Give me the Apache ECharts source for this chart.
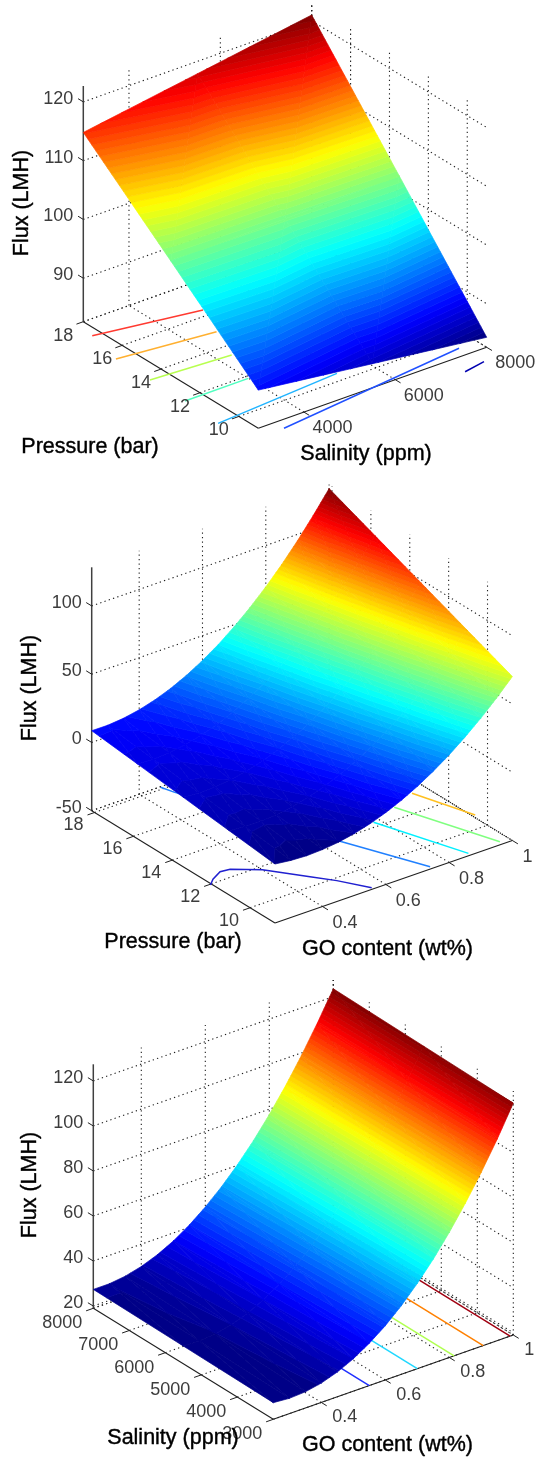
<!DOCTYPE html>
<html>
<head>
<meta charset="utf-8">
<style>
html,body{margin:0;padding:0;background:#fff}
#chart{width:541px;height:1458px;filter:blur(0.4px)}
</style>
<script src="https://cdn.jsdelivr.net/npm/echarts@6/dist/echarts.min.js"></script>
</head>
<body>
<div id="chart"></div>
<script>
// ---------- values ----------
// Panel 1: Flux against Pressure and Salinity
const pressure1 = [9, 13.5, 18];
const salinity1 = [3000, 5500, 8000];
const flux1 = [
  [89.1, 86.7, 84.3],
  [102.0, 102.3, 102.7],
  [114.8, 117.9, 121.0]
];
const pressureTicks1 = [10, 12, 14, 16, 18];
const salinityTicks1 = [4000, 6000, 8000];
const fluxTicks1 = [90, 100, 110, 120];
const contours1 = [
  [[17.54, 3000], [16.81, 5115]],
  [[15.85, 2800], [15.4, 4810]],
  [[14.08, 2790], [13.87, 4490]],
  [[12.3, 2800], [12.31, 4190]],
  [[10.48, 2750], [10.9, 5530]],
  [[8.97, 3550], [9.93, 7790]],
  [[8.56, 7340], [8.74, 7830]]
];

// Panel 2: Flux against Pressure and GO content
const pressure2 = [8.72, 11.08, 13.435, 15.79, 18.15];
const go2 = [0.25, 0.30, 0.35, 0.40, 0.45, 0.50, 0.55, 0.60, 0.65, 0.70, 0.75, 0.80, 0.85, 0.90, 0.95, 1];
const flux2 = [
  [-6.8, -8.2, -8.8, -8.3, -7.0, -4.7, -1.5, 2.7, 7.8, 13.9, 20.9, 28.8, 37.8, 47.6, 58.4, 70.1],
  [-2.95, -4.0, -4.2, -3.3, -1.5, 1.35, 5.15, 10.0, 15.7, 22.55, 30.3, 39.0, 48.8, 59.5, 71.3, 83.95],
  [0.9, 0.15, 0.4, 1.75, 4.05, 7.4, 11.8, 17.25, 23.65, 31.2, 39.7, 49.2, 59.85, 71.45, 84.15, 97.8],
  [4.75, 4.3, 5.0, 6.8, 9.6, 13.45, 18.45, 24.5, 31.6, 39.85, 49.1, 59.4, 70.85, 83.4, 97.0, 111.65],
  [8.6, 8.5, 9.6, 11.8, 15.1, 19.5, 25.1, 31.8, 39.5, 48.5, 58.5, 69.6, 81.9, 95.3, 109.9, 125.5]
];
const pressureTicks2 = [10, 12, 14, 16, 18];
const goTicks2 = [0.4, 0.6, 0.8, 1];
const fluxTicks2 = [-50, 0, 50, 100];
const contours2 = [
  [[11.96, 0.245], [12.22, 0.269], [12.49, 0.308], [12.43, 0.336], [11.81, 0.40], [10.55, 0.473], [9.84, 0.514], [8.81, 0.561]],
  [[8.85, 0.748], [11.83, 0.652], [17.61, 0.477], [18.12, 0.466]],
  [[8.85, 0.869], [12.28, 0.78]],
  [[8.89, 0.971], [12.7, 0.871]],
  [[10.78, 1.009], [13.12, 0.953]]
];

// Panel 3: Flux against Salinity and GO content
const salinity3 = [3000, 5500, 8000];
const go3 = [0.25, 0.30, 0.35, 0.40, 0.45, 0.50, 0.55, 0.60, 0.65, 0.70, 0.75, 0.80, 0.85, 0.90, 0.95, 1];
const flux3 = [
  [26.4, 25.8, 26.2, 27.6, 30.0, 33.4, 37.8, 43.1, 49.5, 56.9, 65.2, 74.6, 85.0, 96.3, 108.6, 122.0],
  [26.9, 26.6, 27.25, 28.85, 31.4, 34.9, 39.4, 44.8, 51.2, 58.55, 66.8, 76.1, 86.35, 97.5, 109.65, 122.75],
  [27.4, 27.4, 28.3, 30.1, 32.8, 36.4, 41.0, 46.5, 52.9, 60.2, 68.4, 77.6, 87.7, 98.7, 110.7, 123.5]
];
const salinityTicks3 = [4000, 5000, 6000, 7000, 8000, 3000];
const goTicks3 = [0.4, 0.6, 0.8, 1];
const fluxTicks3 = [20, 40, 60, 80, 100, 120];
const contours3 = [
  [[3000, 0.99], [8000, 0.99]],
  [[3000, 0.906], [8000, 0.906]],
  [[3000, 0.815], [8000, 0.815]],
  [[3000, 0.70], [8000, 0.70]],
  [[3000, 0.55], [8000, 0.55]]
];

// ---------- layout and style ----------
const contourColors1 = ['#ff3a30', '#ffb030', '#b8ff50', '#50ffc0', '#20b4ff', '#2050ff', '#0000b0'];
const contourColors2 = ['#2020d0', '#2080ff', '#00f0ff', '#80ff80', '#ffc020'];
const contourColors3 = ['#a00010', '#ff8000', '#b0ff50', '#20d8ff', '#2030ff'];

const panels = [
  { a: [9, 18], b: [3000, 8000], z: [82.6, 122.7], o: [258.3, 428.3], A: [-175, -106.6], B: [228.4, -81], H: 235.7,
    aVals: pressure1, bVals: salinity1, flux: flux1, aTicks: pressureTicks1, bTicks: salinityTicks1, zTicks: fluxTicks1,
    contours: contours1, colors: contourColors1, contourZ: 81.15,
    aLab: [-20, 14], bLab: [8.5, 16], zLabX: -10,
    names: [['Flux (LMH)', 22.5, 203, true], ['Pressure (bar)', 90, 447, false], ['Salinity (ppm)', 366, 454, false]] },
  { a: [8.72, 18.15], b: [0.25, 1], z: [-50, 128.3], o: [275, 923], A: [-183.3, -112.3], B: [237.4, -82.5], H: 243.4,
    aVals: pressure2, bVals: go2, flux: flux2, aTicks: pressureTicks2, bTicks: goTicks2, zTicks: fluxTicks2,
    contours: contours2, colors: contourColors2, contourZ: -50,
    aLab: [-21, 13], bLab: [10, 16.5], zLabX: -10,
    names: [['Flux (LMH)', 30.4, 688, true], ['Pressure (bar)', 173, 941.7, false], ['GO content (wt%)', 387.5, 949, false]] },
  { a: [3000, 8000], b: [0.25, 1], z: [19, 127.4], o: [273.3, 1419.3], A: [-180, -111], B: [240, -84.3], H: 244,
    aVals: salinity3, bVals: go3, flux: flux3, aTicks: salinityTicks3, bTicks: goTicks3, zTicks: fluxTicks3,
    contours: contours3, colors: contourColors3, contourZ: 19,
    aLab: [-31, 15], bLab: [11, 15], zLabX: -10,
    names: [['Flux (LMH)', 30.4, 1185, true], ['Salinity (ppm)', 173, 1437.7, false], ['GO content (wt%)', 387.5, 1445, false]] }
];

const JET_LEVELS = 64;
const clamp01 = v => Math.max(0, Math.min(1, v));
function jet(t) {
  const r = clamp01(1.5 - Math.abs(4 * t - 3));
  const g = clamp01(1.5 - Math.abs(4 * t - 2));
  const b = clamp01(1.5 - Math.abs(4 * t - 1));
  return 'rgb(' + Math.round(r * 255) + ',' + Math.round(g * 255) + ',' + Math.round(b * 255) + ')';
}

function projector(P) {
  return function (a, b, z) {
    const fa = (a - P.a[0]) / (P.a[1] - P.a[0]);
    const fb = (b - P.b[0]) / (P.b[1] - P.b[0]);
    const fz = (z - P.z[0]) / (P.z[1] - P.z[0]);
    return [P.o[0] + fa * P.A[0] + fb * P.B[0], P.o[1] + fa * P.A[1] + fb * P.B[1] - fz * P.H];
  };
}

// keep the part of a polygon whose z lies on one side of a level
function clipZ(poly, level, keepAbove) {
  const out = [];
  for (let i = 0; i < poly.length; i++) {
    const p = poly[i], q = poly[(i + 1) % poly.length];
    const pIn = keepAbove ? p[2] >= level : p[2] <= level;
    const qIn = keepAbove ? q[2] >= level : q[2] <= level;
    if (pIn) out.push(p);
    if (pIn !== qIn) {
      const t = (level - p[2]) / (q[2] - p[2]);
      out.push([p[0] + t * (q[0] - p[0]), p[1] + t * (q[1] - p[1]), level]);
    }
  }
  return out;
}

function customSeries(items, build, z) {
  return {
    type: 'custom', coordinateSystem: 'cartesian2d', silent: true, animation: false, z: z, clip: false,
    encode: { x: 0, y: 1 },
    data: items.map((d, i) => [i, 0]),
    renderItem: (params, api) => build(items[params.dataIndex], api)
  };
}

const series = [];
panels.forEach(P => {
  const proj = projector(P);
  const [a0, a1] = P.a, [b0, b1] = P.b, [z0, z1] = P.z;
  const da = a1 - a0, db = b1 - b0;
  const pline = (pts, stroke, width, dash, api) => ({
    type: 'polyline',
    shape: { points: pts.map(p => api.coord(p)) },
    style: { stroke: stroke, lineWidth: width, lineDash: dash || null, fill: null }
  });

  // dotted grid on the floor and the two back walls
  const dots = [];
  P.aTicks.forEach(t => {
    dots.push([proj(t, b0, z0), proj(t, b1, z0)]);
    dots.push([proj(t, b1, z0), proj(t, b1, z1)]);
  });
  P.bTicks.forEach(t => {
    dots.push([proj(a0, t, z0), proj(a1, t, z0)]);
    dots.push([proj(a1, t, z0), proj(a1, t, z1)]);
  });
  P.zTicks.forEach(t => {
    dots.push([proj(a1, b0, t), proj(a1, b1, t)]);
    dots.push([proj(a1, b1, t), proj(a0, b1, t)]);
  });
  dots.push([proj(a1, b0, z0), proj(a1, b1, z0)]);
  dots.push([proj(a1, b1, z0), proj(a0, b1, z0)]);
  dots.push([proj(a1, b1, z0), proj(a1, b1, z1)]);
  series.push(customSeries(dots, (d, api) => pline(d, '#202020', 1.1, [1.3, 3.2], api), 1));

  // axis lines and tick marks
  const axes = [
    [proj(a1, b0, z0), proj(a0, b0, z0), '#202020', 1.1],
    [proj(a0, b0, z0), proj(a0, b1, z0), '#202020', 1.1],
    [proj(a1, b0, z0), proj(a1, b0, z1), '#404040', 1.5]
  ];
  P.aTicks.forEach(t => axes.push([proj(t, b0, z0), proj(t, b0 - 0.03 * db, z0), '#202020', 1]));
  P.bTicks.forEach(t => axes.push([proj(a0, t, z0), proj(a0 - 0.03 * da, t, z0), '#202020', 1]));
  P.zTicks.forEach(t => axes.push([proj(a1, b0, t), proj(a1 + 0.03 * da, b0, t), '#202020', 1]));
  series.push(customSeries(axes, (d, api) => pline([d[0], d[1]], d[2], d[3], null, api), 2));

  // contour lines on the floor
  const lines = P.contours.map((c, i) => ({ pts: c.map(q => proj(q[0], q[1], P.contourZ)), color: P.colors[i] }));
  series.push(customSeries(lines, (d, api) => pline(d.pts, d.color, 1.5, null, api), 3));

  // surface: grid triangles are cut into the bands of a 64-level jet map,
  // and the pieces are drawn one whole band after another
  let zMin = Infinity, zMax = -Infinity;
  P.flux.forEach(r => r.forEach(v => { zMin = Math.min(zMin, v); zMax = Math.max(zMax, v); }));
  const tris = [];
  for (let i = 0; i + 1 < P.aVals.length; i++) {
    for (let j = 0; j + 1 < P.bVals.length; j++) {
      const v = (m, n) => [P.aVals[m], P.bVals[n], P.flux[m][n]];
      tris.push([v(i, j), v(i + 1, j), v(i + 1, j + 1)]);
      tris.push([v(i, j), v(i + 1, j + 1), v(i, j + 1)]);
    }
  }
  const step = (zMax - zMin) / JET_LEVELS;
  const pieces = [];
  for (let k = 0; k < JET_LEVELS; k++) {
    const zl = zMin + k * step, zh = zl + step;
    const color = jet((k + 0.5) / JET_LEVELS);
    tris.forEach(tri => {
      const lo = Math.min(tri[0][2], tri[1][2], tri[2][2]);
      const hi = Math.max(tri[0][2], tri[1][2], tri[2][2]);
      if (zh < lo || zl > hi) return;
      let poly = clipZ(tri, zl, true);
      if (poly.length) poly = clipZ(poly, zh, false);
      if (poly.length >= 3) pieces.push({ pts: poly.map(q => proj(q[0], q[1], q[2])), color: color });
    });
  }
  series.push(customSeries(pieces, (d, api) => ({
    type: 'polygon',
    shape: { points: d.pts.map(p => api.coord(p)) },
    style: { fill: d.color, stroke: d.color, lineWidth: 0.7 }
  }), 4));

  // text
  const texts = [];
  const tickFont = "18px 'Liberation Sans', Arial, sans-serif";
  const nameFont = "21.5px 'Liberation Sans', Arial, sans-serif";
  P.aTicks.forEach(t => {
    const q = proj(t, b0, z0);
    texts.push({ s: String(t), x: q[0] + P.aLab[0], y: q[1] + P.aLab[1], align: 'center', font: tickFont, fill: '#3c3c3c' });
  });
  P.bTicks.forEach(t => {
    const q = proj(a0, t, z0);
    texts.push({ s: String(t), x: q[0] + P.bLab[0], y: q[1] + P.bLab[1], align: 'left', font: tickFont, fill: '#3c3c3c' });
  });
  P.zTicks.forEach(t => {
    const q = proj(a1, b0, t);
    texts.push({ s: String(t), x: q[0] + P.zLabX, y: q[1] - 3, align: 'right', font: tickFont, fill: '#3c3c3c' });
  });
  P.names.forEach(n => {
    texts.push({ s: n[0], x: n[1], y: n[2], align: 'center', font: nameFont, fill: '#000', heavy: true, rot: n[3] ? Math.PI / 2 : 0 });
  });
  series.push(customSeries(texts, (d, api) => {
    const c = api.coord([d.x, d.y]);
    const style = { text: d.s, font: d.font, fill: d.fill, align: d.align, verticalAlign: 'middle' };
    if (d.heavy) { style.stroke = '#000'; style.lineWidth = 0.4; }
    return { type: 'text', x: c[0], y: c[1], rotation: d.rot || 0, style: style };
  }, 5));
});

const chart = echarts.init(document.getElementById('chart'), null, { renderer: 'canvas' });
chart.setOption({
  animation: false,
  backgroundColor: '#ffffff',
  tooltip: { show: false },
  grid: { left: 0, right: 0, top: 0, bottom: 0, containLabel: false },
  xAxis: { type: 'value', min: 0, max: 541, show: false },
  yAxis: { type: 'value', min: 0, max: 1458, inverse: true, show: false },
  series: series
});
</script>
</body>
</html>
